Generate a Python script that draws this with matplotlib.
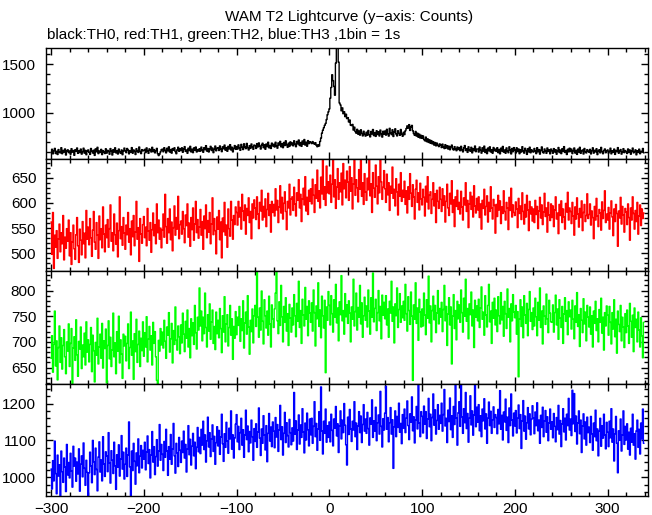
import numpy as np
import matplotlib
matplotlib.use("Agg")
import matplotlib.pyplot as plt
from matplotlib.ticker import MultipleLocator

# ---------------- data (counts per 1 s bin, t = -300 ... 339 s) ----------------
th0 = [
592, 625, 578, 610, 634, 581, 604, 571, 622, 598, 587, 641, 579, 613, 596, 628, 566, 607, 619, 590,
608, 574, 631, 595, 612, 563, 620, 603, 638, 583, 609, 591, 627, 575, 601, 636, 585, 614, 569, 606,
618, 593, 572, 633, 605, 586, 615, 562, 629, 599, 645, 580, 608, 592, 624, 570, 611, 598, 581, 630,
585, 614, 603, 574, 632, 607, 566, 621, 596, 640, 588, 610, 576, 627, 600, 583, 618, 569, 609, 637,
606, 590, 633, 617, 578, 611, 595, 642, 584, 618, 603, 571, 630, 605, 592, 648, 602, 580, 621, 609,
612, 624, 590, 639, 607, 583, 629, 616, 597, 645, 601, 622, 588, 610, 634, 580, 560, 574, 598, 621,
626, 599, 641, 613, 588, 635, 609, 650, 596, 622, 585, 632, 614, 640, 601, 579, 620, 646, 604, 630,
612, 640, 594, 627, 652, 603, 618, 584, 636, 611, 655, 598, 625, 590, 639, 615, 648, 597, 622, 606,
630, 605, 647, 618, 594, 641, 621, 662, 606, 633, 597, 629, 655, 612, 638, 590, 624, 658, 609, 635,
640, 612, 659, 627, 600, 650, 630, 668, 615, 642, 604, 655, 629, 672, 618, 646, 598, 633, 663, 624,
653, 626, 670, 640, 614, 675, 645, 622, 681, 648, 631, 685, 642, 617, 662, 634, 679, 650, 625, 668,
662, 633, 683, 649, 690, 656, 627, 668, 687, 641, 671, 625, 679, 652, 697, 640, 664, 633, 688, 659,
676, 648, 697, 661, 636, 690, 668, 706, 650, 680, 641, 695, 663, 712, 672, 645, 688, 654, 701, 670,
690, 660, 712, 676, 651, 705, 680, 720, 663, 694, 655, 710, 677, 725, 668, 697, 656, 714, 683, 702,
695, 683, 704, 688, 676, 692, 665, 651, 672, 658, 705, 740, 790, 820, 845, 870, 890, 930, 980, 1010,
1040, 1150, 1260, 1390, 1330, 1270, 1180, 1510, 1700, 1690, 1520, 1100, 1080, 1020, 1050, 990, 1010, 960, 985, 940,
950, 905, 925, 872, 868, 880, 822, 852, 806, 790, 830, 780, 812, 770, 825, 788, 762, 810, 778, 760,
800, 768, 818, 775, 752, 808, 782, 828, 765, 796, 757, 815, 776, 805, 761, 822, 784, 750, 810, 779,
812, 770, 830, 785, 760, 840, 792, 775, 825, 756, 803, 835, 781, 762, 815, 788, 768, 828, 780, 758,
800, 775, 815, 838, 865, 842, 878, 818, 852, 870, 815, 786, 768, 808, 760, 790, 748, 780, 740, 768,
738, 762, 725, 712, 750, 703, 732, 695, 722, 686, 714, 680, 703, 668, 694, 660, 688, 665, 652, 680,
668, 642, 678, 648, 632, 672, 638, 662, 628, 656, 620, 650, 668, 630, 617, 652, 626, 610, 648, 622,
642, 610, 655, 620, 598, 640, 663, 612, 630, 593, 650, 618, 604, 645, 588, 632, 611, 658, 600, 627,
628, 596, 648, 614, 585, 640, 605, 657, 592, 623, 580, 637, 609, 650, 597, 621, 584, 643, 610, 626,
603, 641, 590, 622, 578, 636, 607, 654, 595, 618, 584, 639, 606, 589, 650, 617, 577, 633, 600, 642,
619, 586, 640, 601, 628, 579, 621, 596, 651, 608, 585, 635, 611, 572, 630, 598, 646, 589, 620, 603,
596, 633, 608, 580, 641, 599, 622, 575, 614, 649, 598, 586, 628, 609, 583, 638, 602, 619, 578, 627,
610, 584, 632, 597, 621, 574, 606, 643, 591, 617, 580, 630, 602, 652, 592, 612, 571, 625, 598, 636,
601, 627, 580, 610, 638, 586, 613, 572, 626, 596, 645, 583, 609, 618, 576, 633, 600, 587, 621, 604,
594, 624, 577, 610, 640, 585, 614, 598, 630, 570, 605, 620, 588, 644, 601, 579, 612, 628, 589, 609,
618, 586, 602, 636, 578, 610, 593, 627, 572, 613, 600, 642, 584, 608, 622, 575, 598, 631, 590, 612,
600, 581, 628, 593, 617, 574, 606, 637, 588, 601, 619, 568, 610, 592, 626, 579, 604, 597, 633, 588,
]

th1 = [
562, 498, 581, 470, 536, 512, 545, 490, 528, 558, 503, 541, 519, 575, 487, 532, 510, 549, 524, 566,
495, 541, 478, 523, 556, 509, 488, 537, 571, 515, 482, 548, 526, 497, 563, 519, 540, 491, 585, 528,
552, 517, 569, 531, 494, 546, 583, 522, 508, 561, 536, 490, 574, 527, 549, 511, 592, 538, 503, 556,
531, 567, 512, 549, 596, 524, 541, 505, 578, 537, 518, 560, 493, 545, 612, 529, 553, 516, 571, 540,
508, 556, 537, 581, 522, 549, 497, 564, 533, 575, 515, 542, 603, 528, 551, 484, 569, 538, 520, 557,
573, 531, 552, 515, 589, 544, 526, 561, 502, 547, 580, 535, 557, 519, 598, 541, 566, 528, 550, 511,
546, 578, 532, 617, 553, 520, 569, 541, 588, 527, 562, 505, 551, 594, 536, 571, 548, 613, 529, 557,
564, 538, 583, 549, 521, 576, 555, 598, 532, 560, 514, 571, 547, 590, 526, 558, 603, 541, 567, 530,
552, 587, 536, 563, 508, 574, 549, 596, 531, 565, 542, 581, 519, 558, 610, 537, 569, 545, 499, 572,
548, 585, 527, 562, 491, 570, 543, 601, 536, 556, 512, 588, 549, 534, 603, 566, 528, 575, 557, 592,
581, 556, 603, 572, 591, 548, 617, 584, 565, 596, 538, 589, 575, 610, 561, 583, 529, 598, 570, 606,
590, 567, 612, 578, 549, 601, 584, 625, 566, 593, 572, 608, 553, 587, 619, 575, 596, 542, 603, 581,
597, 574, 628, 586, 605, 561, 592, 634, 580, 611, 568, 599, 622, 583, 547, 603, 590, 637, 576, 608,
612, 585, 631, 598, 574, 620, 605, 646, 590, 617, 563, 608, 629, 596, 652, 584, 611, 577, 625, 603,
628, 598, 647, 615, 581, 636, 609, 665, 603, 624, 590, 651, 618, 688, 607, 632, 595, 673, 620, 642,
618, 655, 601, 637, 690, 612, 646, 589, 631, 668, 607, 640, 622, 659, 596, 678, 628, 645, 610, 663,
641, 605, 672, 623, 650, 588, 637, 693, 615, 646, 630, 602, 666, 627, 684, 613, 640, 597, 658, 622,
605, 649, 626, 690, 614, 638, 581, 660, 629, 611, 675, 633, 598, 652, 620, 687, 642, 607, 631, 664,
628, 601, 657, 616, 640, 585, 633, 619, 671, 609, 627, 594, 648, 622, 576, 637, 613, 660, 603, 625,
611, 643, 597, 624, 580, 632, 607, 658, 619, 593, 636, 612, 568, 627, 645, 601, 620, 586, 639, 608,
596, 627, 611, 574, 633, 602, 652, 588, 615, 622, 579, 607, 640, 594, 618, 561, 625, 603, 589, 631,
607, 583, 628, 595, 614, 562, 603, 637, 590, 575, 619, 598, 644, 581, 606, 553, 612, 593, 625, 587,
601, 578, 623, 592, 566, 610, 596, 640, 583, 605, 551, 598, 621, 587, 613, 572, 634, 594, 580, 609,
586, 612, 571, 598, 548, 605, 589, 627, 576, 593, 614, 562, 601, 583, 632, 590, 568, 607, 595, 540,
597, 573, 615, 586, 604, 559, 592, 579, 624, 583, 566, 601, 590, 547, 611, 585, 629, 572, 596, 581,
575, 602, 588, 551, 609, 579, 594, 567, 620, 583, 558, 597, 572, 615, 586, 545, 603, 578, 592, 564,
588, 561, 605, 577, 593, 549, 584, 611, 570, 596, 557, 582, 619, 573, 590, 542, 601, 576, 565, 598,
571, 594, 553, 586, 612, 568, 580, 539, 597, 575, 604, 561, 588, 572, 548, 599, 582, 621, 566, 590,
583, 559, 601, 574, 536, 592, 568, 610, 578, 552, 589, 571, 604, 545, 581, 597, 563, 575, 618, 569,
577, 598, 556, 584, 571, 529, 593, 566, 609, 574, 553, 587, 580, 546, 602, 569, 585, 624, 561, 578,
566, 591, 548, 580, 604, 572, 535, 588, 563, 597, 579, 514, 584, 570, 611, 558, 593, 576, 542, 589,
582, 557, 598, 571, 526, 590, 566, 612, 579, 548, 585, 563, 601, 538, 574, 596, 555, 588, 569, 580,
]

th2 = [
668, 712, 641, 695, 760, 653, 702, 626, 689, 731, 660, 708, 647, 693, 724, 671, 638, 700, 682, 735,
652, 697, 726, 619, 688, 710, 664, 743, 675, 633, 701, 686, 729, 648, 694, 671, 717, 655, 739, 680,
704, 661, 695, 728, 642, 713, 683, 622, 699, 674, 746, 657, 690, 715, 668, 736, 649, 702, 687, 725,
620, 693, 741, 667, 709, 652, 684, 756, 671, 698, 638, 720, 682, 750, 659, 704, 676, 629, 715, 692,
711, 663, 697, 735, 648, 689, 758, 674, 702, 627, 716, 681, 744, 660, 695, 721, 652, 707, 683, 739,
672, 718, 690, 749, 661, 705, 730, 684, 712, 655, 738, 697, 720, 671, 625, 612, 703, 682, 726, 694,
719, 688, 742, 701, 668, 729, 713, 757, 680, 706, 736, 659, 722, 695, 768, 703, 684, 731, 710, 677,
733, 698, 756, 715, 681, 740, 707, 762, 690, 726, 669, 745, 712, 737, 695, 771, 718, 686, 748, 723,
805, 731, 760, 702, 748, 716, 795, 728, 690, 753, 721, 774, 705, 739, 762, 697, 730, 685, 758, 716,
742, 708, 765, 726, 679, 751, 719, 788, 700, 735, 753, 692, 728, 771, 713, 745, 666, 730, 707, 759,
714, 748, 732, 769, 701, 745, 722, 780, 688, 737, 758, 715, 790, 729, 676, 742, 720, 764, 698, 751,
771, 730, 835, 748, 709, 766, 723, 799, 740, 696, 782, 751, 727, 760, 713, 789, 735, 690, 772, 745,
728, 764, 795, 838, 741, 716, 778, 732, 810, 749, 700, 769, 738, 786, 721, 755, 693, 773, 746, 719,
766, 733, 792, 751, 710, 775, 740, 818, 728, 761, 697, 783, 752, 731, 806, 744, 769, 712, 780, 756,
738, 776, 721, 801, 757, 692, 770, 745, 815, 730, 762, 708, 789, 751, 727, 781, 640, 768, 742, 798,
771, 733, 790, 755, 719, 782, 748, 812, 737, 766, 702, 778, 753, 829, 741, 761, 715, 794, 749, 772,
736, 780, 756, 700, 768, 744, 822, 731, 759, 795, 723, 767, 748, 810, 735, 776, 709, 751, 787, 742,
770, 729, 801, 760, 715, 786, 748, 834, 739, 765, 783, 722, 757, 800, 741, 769, 706, 791, 752, 777,
745, 790, 733, 764, 709, 779, 756, 818, 740, 768, 698, 774, 751, 805, 728, 763, 794, 738, 770, 747,
779, 742, 812, 755, 721, 788, 761, 734, 797, 750, 625, 772, 744, 815, 736, 766, 703, 783, 758, 729,
764, 731, 795, 752, 714, 782, 746, 828, 737, 770, 700, 761, 789, 743, 771, 718, 756, 800, 735, 765,
748, 777, 720, 763, 810, 741, 769, 693, 754, 786, 733, 768, 657, 750, 792, 726, 761, 704, 779, 745,
772, 738, 801, 757, 719, 785, 750, 822, 740, 765, 706, 774, 753, 797, 731, 762, 689, 781, 748, 770,
741, 783, 728, 766, 807, 744, 758, 713, 790, 752, 729, 771, 812, 739, 760, 697, 777, 746, 785, 733,
762, 720, 788, 751, 735, 796, 743, 769, 711, 779, 755, 726, 803, 748, 765, 700, 774, 741, 792, 758,
747, 771, 715, 759, 632, 744, 782, 730, 768, 708, 790, 752, 736, 775, 712, 763, 798, 740, 757, 724,
766, 731, 785, 749, 712, 777, 742, 805, 728, 760, 696, 770, 750, 734, 793, 745, 718, 781, 756, 739,
738, 772, 719, 757, 791, 733, 764, 705, 782, 746, 728, 769, 697, 754, 786, 740, 761, 714, 778, 749,
762, 725, 781, 744, 706, 770, 738, 796, 730, 753, 691, 765, 742, 718, 784, 735, 758, 702, 771, 748,
729, 768, 715, 751, 690, 760, 736, 779, 722, 745, 700, 763, 738, 785, 717, 748, 684, 757, 731, 770,
752, 713, 769, 738, 696, 757, 725, 782, 710, 744, 678, 760, 734, 720, 771, 702, 748, 729, 689, 755,
718, 762, 731, 697, 775, 740, 709, 752, 681, 766, 728, 744, 700, 758, 723, 690, 747, 712, 669, 738,
]

th3 = [
1022, 968, 1045, 990, 1098, 1010, 955, 1060, 1003, 1034, 942, 1071, 1015, 986, 1052, 1028, 961, 1089, 1006, 1040,
998, 1065, 1017, 973, 1084, 1030, 1052, 989, 1041, 1009, 1077, 962, 1035, 1058, 1001, 1093, 1024, 978, 1046, 1013,
946, 1012, 1068, 1031, 985, 1100, 1042, 1007, 1079, 1021, 963, 1055, 1096, 1014, 1047, 990, 1110, 1036, 1002, 1069,
1058, 1015, 1121, 1039, 984, 1072, 1046, 1010, 1095, 1031, 967, 1061, 1027, 1088, 1003, 1049, 1113, 1022, 1068, 995,
1035, 1079, 1002, 1060, 1150, 1028, 945, 1071, 1018, 1092, 1043, 981, 1066, 1031, 1104, 1012, 1057, 1086, 1025, 1073,
1049, 1095, 1020, 1068, 1112, 1037, 1075, 998, 1060, 1124, 1041, 1083, 1007, 1056, 1102, 1030, 1071, 1143, 1046, 1089,
1062, 1018, 1097, 1054, 1130, 1071, 1005, 1083, 1049, 1116, 1035, 1077, 1146, 1058, 1011, 1092, 1066, 1029, 1108, 1073,
1040, 1098, 1067, 1125, 1052, 1089, 1014, 1076, 1140, 1061, 1103, 1033, 1084, 1119, 1058, 1095, 1023, 1081, 1135, 1069,
1108, 1064, 1130, 1087, 1152, 1075, 1115, 1041, 1099, 1163, 1082, 1121, 1056, 1104, 1142, 1070, 1111, 1035, 1094, 1137,
1085, 1127, 1062, 1109, 1171, 1091, 1043, 1118, 1081, 1149, 1098, 1065, 1133, 1104, 1180, 1076, 1115, 1052, 1106, 1144,
1170, 1096, 1138, 1075, 1121, 1160, 1087, 1129, 1054, 1115, 1182, 1102, 1139, 1069, 1124, 1093, 1155, 1110, 1046, 1132,
1097, 1145, 1081, 1123, 1188, 1106, 1059, 1131, 1092, 1167, 1114, 1074, 1140, 1042, 1119, 1173, 1098, 1136, 1083, 1150,
1125, 1080, 1162, 1109, 1143, 1070, 1128, 1195, 1102, 1137, 1060, 1119, 1176, 1094, 1148, 1113, 1082, 1157, 1121, 1088,
1134, 1098, 1230, 1117, 1153, 1075, 1128, 1169, 1090, 1142, 1108, 1186, 1123, 1066, 1147, 1101, 1174, 1129, 1085, 1158,
1115, 1160, 1092, 1138, 1205, 1110, 1146, 1073, 1131, 1178, 1100, 1245, 1126, 1063, 1152, 1119, 1185, 1095, 1140, 1108,
1150, 1096, 1171, 1127, 1085, 1158, 1133, 1192, 1112, 1145, 1067, 1139, 1180, 1104, 1155, 1121, 1200, 1141, 1088, 1033,
1163, 1116, 1184, 1131, 1097, 1152, 1128, 1205, 1110, 1147, 1075, 1139, 1178, 1121, 1166, 1094, 1143, 1197, 1125, 1158,
1119, 1176, 1132, 1087, 1161, 1144, 1210, 1108, 1153, 1125, 1190, 1099, 1148, 1169, 1117, 1233, 1138, 1082, 1159, 1128,
1174, 1247, 1130, 1162, 1096, 1148, 1189, 1117, 1156, 1024, 1137, 1180, 1110, 1165, 1135, 1201, 1122, 1146, 1091, 1170,
1133, 1185, 1121, 1160, 1207, 1140, 1102, 1172, 1149, 1218, 1126, 1164, 1093, 1155, 1192, 1131, 1250, 1147, 1110, 1178,
1165, 1120, 1193, 1144, 1178, 1105, 1158, 1214, 1137, 1171, 1099, 1162, 1226, 1141, 1183, 1117, 1154, 1197, 1130, 1168,
1146, 1201, 1125, 1170, 1238, 1139, 1160, 1094, 1182, 1151, 1215, 1129, 1167, 1108, 1192, 1143, 1250, 1160, 1087, 1175,
1205, 1138, 1252, 1164, 1119, 1186, 1148, 1230, 1132, 1173, 1095, 1160, 1221, 1142, 1180, 1114, 1169, 1253, 1137, 1190,
1149, 1197, 1126, 1167, 1110, 1185, 1153, 1213, 1131, 1172, 1092, 1160, 1204, 1140, 1179, 1119, 1156, 1191, 1135, 1170,
1162, 1118, 1184, 1145, 1235, 1130, 1168, 1101, 1177, 1150, 1212, 1127, 1163, 1094, 1188, 1140, 1226, 1155, 1112, 1174,
1139, 1181, 1120, 1160, 1196, 1132, 1170, 1078, 1153, 1208, 1125, 1166, 1103, 1148, 1189, 1131, 1172, 1115, 1157, 1194,
1161, 1118, 1177, 1140, 1202, 1126, 1155, 1092, 1168, 1135, 1190, 1110, 1153, 1181, 1122, 1164, 1099, 1147, 1185, 1130,
1150, 1107, 1173, 1138, 1096, 1162, 1129, 1195, 1117, 1154, 1083, 1145, 1186, 1123, 1160, 1101, 1171, 1140, 1214, 1128,
1158, 1113, 1236, 1145, 1227, 1124, 1166, 1090, 1147, 1180, 1118, 1155, 1067, 1139, 1172, 1104, 1150, 1087, 1163, 1121,
1136, 1094, 1165, 1118, 1073, 1147, 1110, 1182, 1099, 1131, 1058, 1125, 1160, 1084, 1140, 1106, 1171, 1115, 1077, 1149,
1122, 1083, 1152, 1107, 1186, 1095, 1131, 1044, 1118, 1165, 1092, 1012, 1126, 1100, 1158, 1071, 1114, 1180, 1089, 1138,
1101, 1145, 1076, 1122, 1060, 1133, 1095, 1171, 1087, 1118, 1049, 1126, 1155, 1081, 1130, 1063, 1147, 1104, 1185, 1092,
]

t_start = -300
series = [th0, th1, th2, th3]
colors = ["black", "#ff0000", "#00ff00", "#0000ff"]
ylims = [(530, 1665), (465, 688), (618, 838), (949, 1253)]
ymajor = [500, 50, 50, 100]
yminor = [100, 10, 10, 20]
xlim = (-305.5, 343.5)

title = "WAM T2 Lightcurve (y\u2212axis: Counts)"
subtitle = "black:TH0, red:TH1, green:TH2, blue:TH3 ,1bin = 1s"

# ---------------- figure ----------------
plt.rcParams["font.family"] = ["Liberation Sans", "DejaVu Sans"]
plt.rcParams["axes.unicode_minus"] = True
W, H = 652, 515
fig = plt.figure(figsize=(W / 100, H / 100), dpi=100)

edges_px = [48, 158.5, 271, 384, 496]
left_px, right_px = 46, 648

axes = []
for i, (vals, col) in enumerate(zip(series, colors)):
    top = edges_px[i]
    bot = edges_px[i + 1]
    ax = fig.add_axes([left_px / W, 1 - bot / H, (right_px - left_px) / W, (bot - top) / H])
    t = np.arange(len(vals)) + t_start
    ax.step(t, vals, where="mid", color=col, lw=1.0)
    ax.set_xlim(*xlim)
    ax.set_ylim(*ylims[i])
    ax.xaxis.set_major_locator(MultipleLocator(100))
    ax.xaxis.set_minor_locator(MultipleLocator(20))
    ax.yaxis.set_major_locator(MultipleLocator(ymajor[i]))
    ax.yaxis.set_minor_locator(MultipleLocator(yminor[i]))
    ax.tick_params(which="both", direction="in", top=True, right=True, width=1.0,
                   labelsize=11, colors="black")
    ax.tick_params(axis="y", pad=7)
    ax.tick_params(axis="x", pad=4)
    ax.tick_params(which="major", length=5)
    ax.tick_params(which="minor", length=3)
    for s in ax.spines.values():
        s.set_linewidth(1.0)
    if i < 3:
        ax.tick_params(labelbottom=False)
    axes.append(ax)

fig.text(349 / W, 1 - 17 / H, title, ha="center", va="center", fontsize=11)
fig.text(47 / W, 1 - 35 / H, subtitle, ha="left", va="center", fontsize=11)

fig.savefig("out.png", dpi=100)
